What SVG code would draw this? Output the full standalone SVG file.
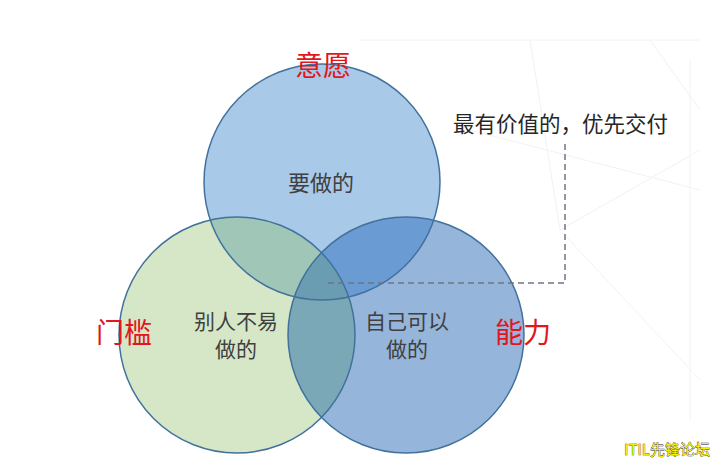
<svg xmlns="http://www.w3.org/2000/svg" width="712" height="459" viewBox="0 0 712 459">
<style>
.cjk{font-family:"Noto Sans CJK SC","Liberation Sans",sans-serif;}
.lbl{font-size:21px;fill:#404040;text-anchor:middle;}
.top{font-size:22px;}
.red{font-size:28px;fill:#e2161d;text-anchor:middle;}
.edge{fill:none;stroke:#41719c;stroke-width:1.5;}
.bg{fill:none;stroke:#f2f2f2;stroke-width:1;}
</style>
<defs>
<clipPath id="cT"><circle cx="322" cy="182" r="118"/></clipPath>
<clipPath id="cL"><circle cx="237" cy="335" r="118"/></clipPath>
<clipPath id="cR"><circle cx="406" cy="335" r="118"/></clipPath>
</defs>
<rect width="712" height="459" fill="#ffffff"/>
<g id="background">
<path class="bg" d="M360 40 L700 40 M530 40 L560 230 L700 380 M560 230 L700 150 M650 40 L700 110 M690 60 L690 420 M470 130 L700 190"/>
</g>
<g id="regions">
<circle cx="322" cy="182" r="118" fill="#a9c9e9"/>
<circle cx="237" cy="335" r="118" fill="#d6e7c8"/>
<circle cx="406" cy="335" r="118" fill="#95b5da"/>
<circle cx="322" cy="182" r="118" fill="#a0c6b8" clip-path="url(#cL)"/>
<circle cx="322" cy="182" r="118" fill="#6b9bd3" clip-path="url(#cR)"/>
<circle cx="237" cy="335" r="118" fill="#7aa8b7" clip-path="url(#cR)"/>
<g clip-path="url(#cL)"><circle cx="322" cy="182" r="118" fill="#6a9db2" clip-path="url(#cR)"/></g>
</g>
<g id="node-will">
<circle class="edge" cx="322" cy="182" r="118"/>
<text class="cjk red" x="323" y="76">意愿</text>
<text class="cjk lbl top" x="321" y="191">要做的</text>
</g>
<g id="node-threshold">
<circle class="edge" cx="237" cy="335" r="118"/>
<text class="cjk red" x="124" y="343">门槛</text>
<text class="cjk lbl" x="236" y="329">别人不易</text>
<text class="cjk lbl" x="236" y="357">做的</text>
</g>
<g id="node-ability">
<circle class="edge" cx="406" cy="335" r="118"/>
<text class="cjk red" x="523" y="343">能力</text>
<text class="cjk lbl" x="407" y="329">自己可以</text>
<text class="cjk lbl" x="407" y="357">做的</text>
</g>
<g id="connectors">
<path d="M328 283 L565 283 L565 143" fill="none" stroke="#6b7785" stroke-width="1.5" stroke-dasharray="6 4"/>
</g>
<g id="node-note">
<text class="cjk" x="453" y="132" font-size="21.5" fill="#262626">最有价值的，优先交付</text>
</g>
<g id="watermark">
<text class="cjk" x="710" y="455" font-size="15" text-anchor="end" fill="#f5f000" stroke="#222" stroke-width="0.6" paint-order="stroke">ITIL先锋论坛</text>
</g>
</svg>
